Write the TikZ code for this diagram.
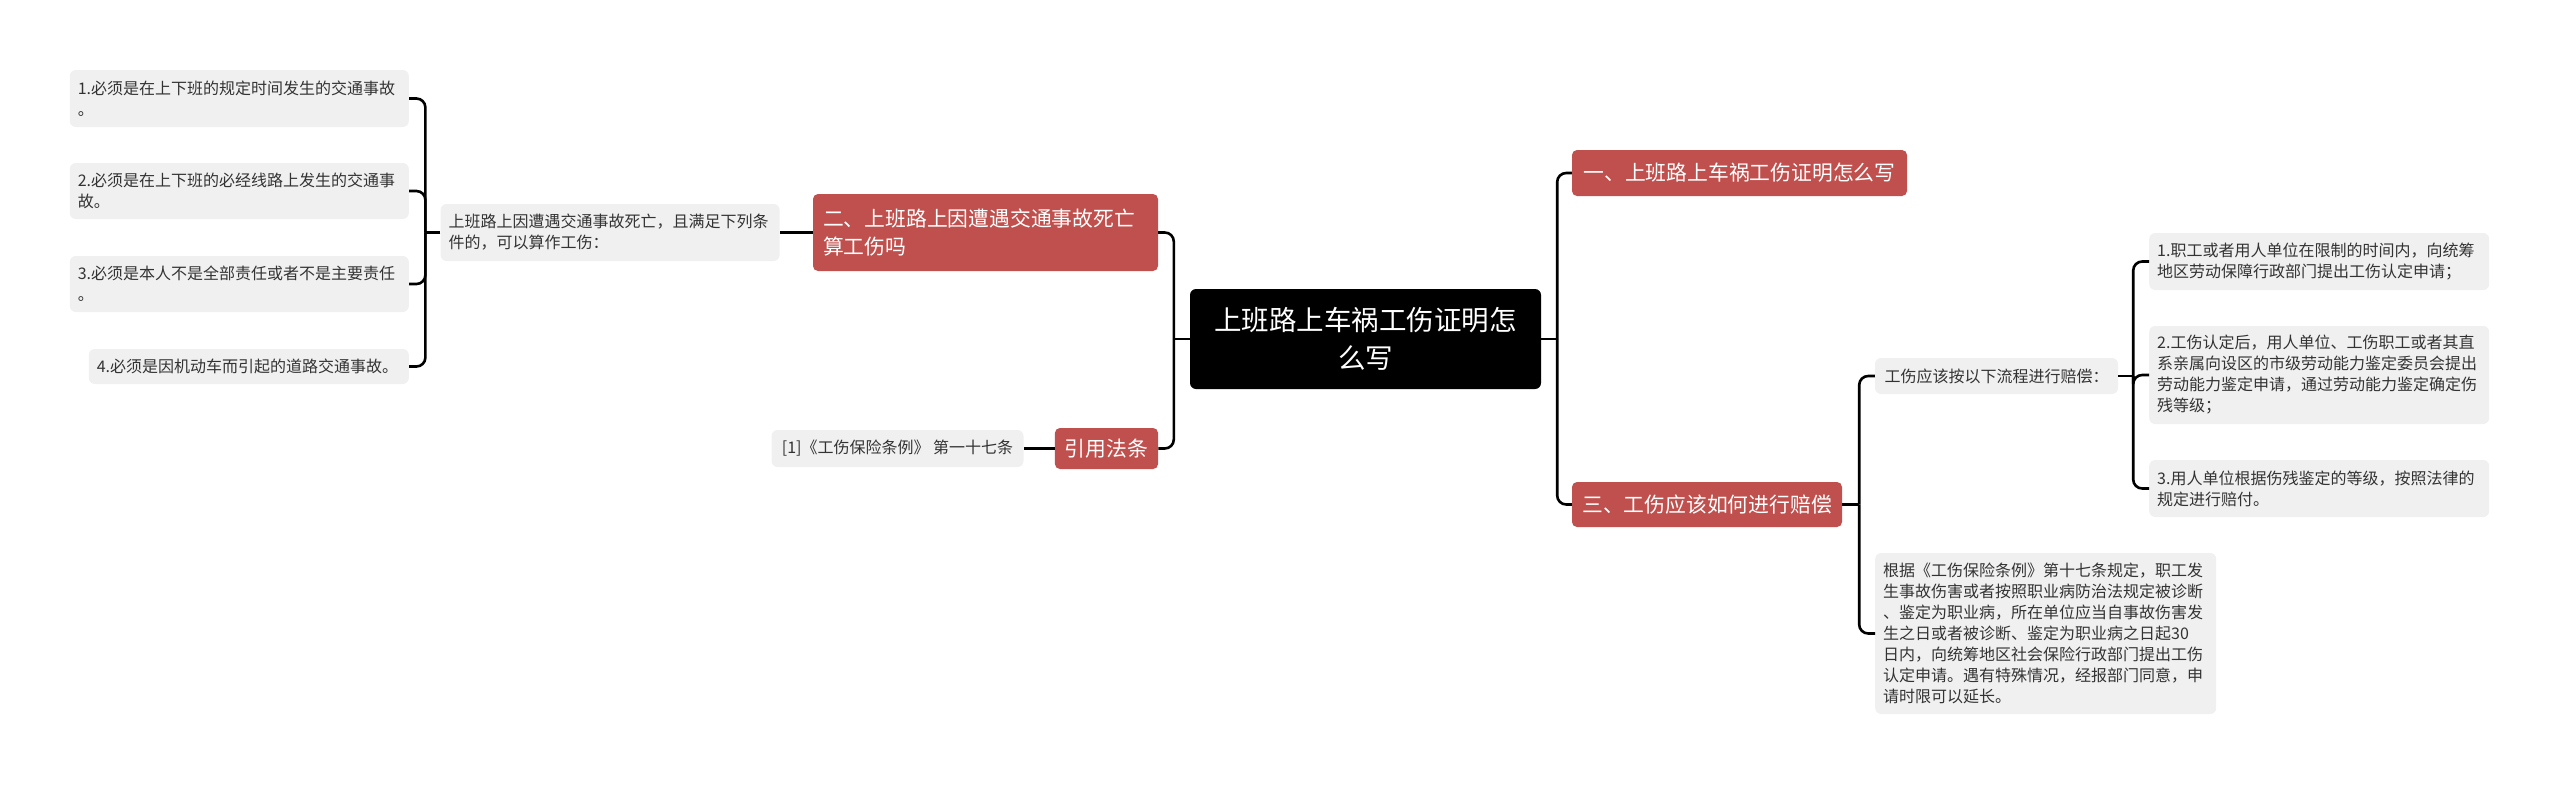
\documentclass[tikz,border=0pt]{standalone}
\usepackage{fontspec}
\setmainfont{Noto Sans CJK SC}
\usepackage{xcolor}
\usepackage{tikz}
\usetikzlibrary{positioning}

\definecolor{mapred}{RGB}{192,80,77}
\definecolor{leafgray}{RGB}{240,240,240}
\definecolor{leaftext}{RGB}{51,51,51}

\begin{document}
\begin{tikzpicture}[
  x=1pt, y=-1pt,
  root/.style={fill=black, text=white, rounded corners=6pt, align=center, inner sep=0pt, font=\fontsize{27.5}{38}\selectfont},
  topic/.style={fill=mapred, text=white, rounded corners=5pt, align=left, inner xsep=10pt, inner ysep=0pt, font=\fontsize{20.8}{28}\selectfont},
  leaf/.style={fill=leafgray, text=leaftext, rounded corners=6pt, align=left, inner xsep=8pt, inner ysep=0pt, font=\fontsize{16}{21}\selectfont},
  link/.style={line width=2.6pt, rounded corners=9pt}
]
\useasboundingbox (0,0) rectangle (2560,785);

\node[root, text width=351pt, minimum height=100pt] (root) at (1365.5,339) {上班路上车祸工伤证明怎\\么写};

\node[topic, text width=325pt, minimum height=77pt] (deathq) at (985.5,232.5) {二、上班路上因遭遇交通事故死亡\\算工伤吗};
\node[leaf, text width=323pt, minimum height=57pt, left=33pt of deathq] (cond) {上班路上因遭遇交通事故死亡，且满足下列条\\件的，可以算作工伤：};
\node[leaf, text width=323pt, minimum height=57pt, anchor=east] (conda) at (409,98.5) {1.必须是在上下班的规定时间发生的交通事故\\。};
\node[leaf, text width=323pt, minimum height=56pt, anchor=east] (condb) at (409,191) {2.必须是在上下班的必经线路上发生的交通事\\故。};
\node[leaf, text width=323pt, minimum height=56pt, anchor=east] (condc) at (409,284) {3.必须是本人不是全部责任或者不是主要责任\\。};
\node[leaf, text width=304pt, minimum height=35pt, anchor=east] (condd) at (409,366.5) {4.必须是因机动车而引起的道路交通事故。};

\node[topic, align=center, minimum width=103pt, minimum height=41pt] (cite) at (1106.5,448.5) {引用法条};
\node[leaf, align=center, minimum width=252pt, minimum height=37pt, left=31pt of cite] (citeref) {[1]《工伤保险条例》 第一十七条};

\node[topic, align=center, minimum width=335pt, minimum height=46pt] (proof) at (1739.5,173) {一、上班路上车祸工伤证明怎么写};
\node[topic, align=center, minimum width=270pt, minimum height=45pt] (comp) at (1707,504.5) {三、工伤应该如何进行赔偿};

\node[leaf, align=center, minimum width=243pt, minimum height=36pt] (flow) at (1996.5,376) {工伤应该按以下流程进行赔偿：};
\node[leaf, text width=324pt, minimum height=57pt, anchor=west] (flowa) at (2149,261.5) {1.职工或者用人单位在限制的时间内，向统筹\\地区劳动保障行政部门提出工伤认定申请；};
\node[leaf, text width=324pt, minimum height=98pt, anchor=west] (flowb) at (2149,375) {2.工伤认定后，用人单位、工伤职工或者其直\\系亲属向设区的市级劳动能力鉴定委员会提出\\劳动能力鉴定申请，通过劳动能力鉴定确定伤\\残等级；};
\node[leaf, text width=324pt, minimum height=57pt, anchor=west] (flowc) at (2149,488.5) {3.用人单位根据伤残鉴定的等级，按照法律的\\规定进行赔付。};
\node[leaf, text width=325pt, minimum height=161pt, anchor=west] (rule) at (1875,633.5) {根据《工伤保险条例》第十七条规定，职工发\\生事故伤害或者按照职业病防治法规定被诊断\\、鉴定为职业病，所在单位应当自事故伤害发\\生之日或者被诊断、鉴定为职业病之日起30\\日内，向统筹地区社会保险行政部门提出工伤\\认定申请。遇有特殊情况，经报部门同意，申\\请时限可以延长。};

\draw[link] (root.west) -- ++(-16,0) coordinate (lbus);
\draw[link] (lbus) |- (deathq.east);
\draw[link] (lbus) |- (cite.east);
\draw[link] (deathq.west) -- (cond.east);
\draw[link] (cite.west) -- (citeref.east);
\draw[link] (cond.west) -- ++(-15,0) coordinate (cbus);
\foreach \n in {conda,condb,condc,condd}
  \draw[link] (cbus) |- (\n.east);

\draw[link] (root.east) -- ++(16,0) coordinate (rbus);
\draw[link] (rbus) |- (proof.west);
\draw[link] (rbus) |- (comp.west);
\draw[link] (comp.east) -- ++(17,0) coordinate (pbus);
\draw[link] (pbus) |- (flow.west);
\draw[link] (pbus) |- (rule.west);
\draw[link] (flow.east) -- ++(15,0) coordinate (fbus);
\foreach \n in {flowa,flowb,flowc}
  \draw[link] (fbus) |- (\n.west);
\end{tikzpicture}
\end{document}
